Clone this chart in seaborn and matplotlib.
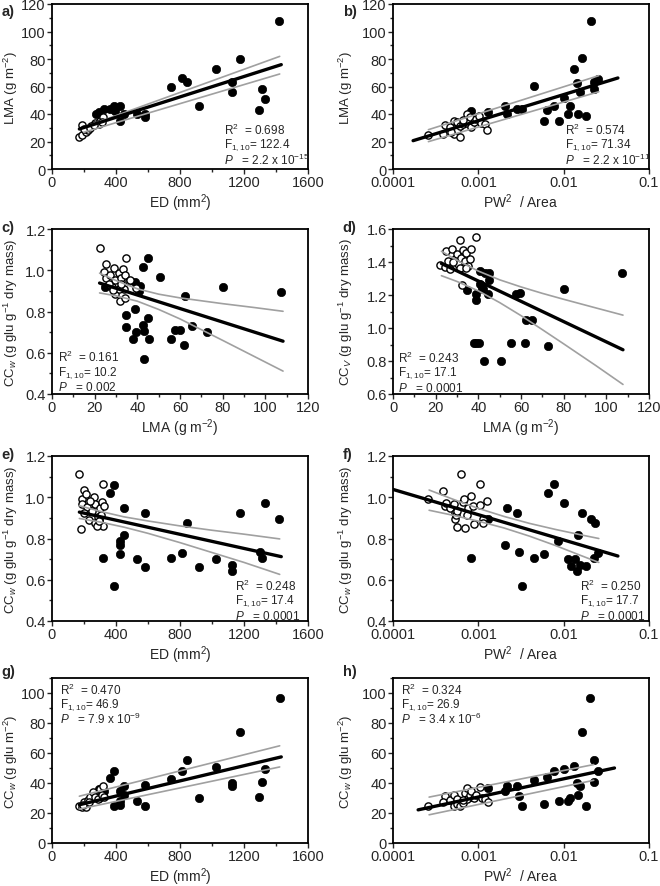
import matplotlib
matplotlib.use("Agg")
import matplotlib.pyplot as plt
import seaborn as sns
from matplotlib.ticker import MultipleLocator, FixedLocator, FixedFormatter, NullLocator

# ---- panel a: LMA vs ED ----
a_fill_x = [1420, 1177, 1027, 812, 844, 746, 1125, 1125, 1312, 1333, 1292, 917, 531, 579, 579,
            452, 423, 423, 385, 365, 396, 323, 296, 277]
a_fill_y = [108, 80, 72.7, 66, 63, 60, 63, 56, 58, 51, 43, 46, 40, 40, 38,
            40, 45.6, 35, 46, 43.6, 42, 43.6, 41.7, 40]
a_open_x = [171, 187, 187, 215, 223, 244, 271, 302, 319, 292, 198, 240, 260, 310]
a_open_y = [23, 25, 32, 26.7, 28.6, 31.5, 33.5, 35, 37.6, 32.7, 29, 30, 32, 34]
a_fit_x, a_fit_y = [171, 1433], [29.1, 75.9]
a_ci_x, a_ci_up, a_ci_lo = [198, 1423], [30.3, 81.9], [26.7, 69.1]

# ---- panel b: LMA vs PW2/Area ----
b_fill_x = [0.021, 0.0164, 0.0133, 0.00452, 0.0144, 0.0225, 0.0253, 0.0225, 0.0154, 0.010,
            0.00206, 0.00776, 0.012, 0.00637, 0.00282, 0.00324, 0.00215, 0.00131, 0.00081,
            0.00593, 0.0087, 0.0111, 0.0146, 0.0185]
b_fill_y = [108, 80.5, 72.7, 60.1, 62.5, 63, 65.5, 58.2, 56.2, 51.4,
            46, 46, 46, 43, 43.6, 43.6, 40, 41.2, 42.4,
            35, 35, 40, 40, 38.3]
b_open_x = [0.000254, 0.000405, 0.000388, 0.000465, 0.000518, 0.000518, 0.000556, 0.000556,
            0.000608, 0.000608, 0.000654, 0.000697, 0.00073, 0.00074, 0.000798, 0.00083,
            0.00088, 0.00095, 0.00103, 0.00107, 0.0012, 0.00128, 0.00067, 0.00048]
b_open_y = [24.7, 32, 25.5, 30.3, 35, 25.5, 28.6, 33.9,
            31, 23, 32.7, 35, 40, 33.5, 37.6, 30.3,
            34.4, 36.4, 38.8, 33.5, 32.7, 28.6, 35.8, 27]
b_fit_x, b_fit_y = [0.000172, 0.0432], [20.6, 66.2]
b_ci_x, b_ci_up, b_ci_lo = [0.00026, 0.0258], [28.6, 67.9], [19.9, 56.2]

# ---- panel c: CCw (mass) vs LMA ----
c_fill_x = [107.5, 80.2, 62.5, 50.8, 45, 42.7, 41.4, 40.6, 39.1, 39.8, 38.8, 34.8, 34.8, 39.5,
            37.8, 42.7, 43.3, 45, 45.6, 43, 55.8, 57.8, 59.8, 61.7, 65.6, 72.7, 25.0]
c_fill_y = [0.894, 0.918, 0.873, 0.967, 1.058, 1.018, 0.926, 0.897, 0.943, 0.914, 0.814, 0.785,
            0.725, 0.701, 0.666, 0.733, 0.706, 0.769, 0.666, 0.572, 0.669, 0.709, 0.709, 0.64,
            0.73, 0.701, 0.918]
c_open_x = [22.3, 25.5, 24.2, 25.2, 27.3, 28.9, 29.7, 28.3, 31.4, 32.3, 33.3, 34.8, 34.4, 36,
            36.7, 29.7, 31.7, 34.4, 33.6, 31.3, 39.5, 32.3, 26.6, 28.6]
c_open_y = [1.107, 1.031, 0.991, 0.962, 0.978, 1.01, 0.951, 0.918, 0.988, 0.962, 1.004, 1.058,
            0.975, 0.946, 0.951, 0.886, 0.849, 0.865, 0.91, 0.91, 0.914, 0.935, 0.935, 0.902]
c_fit_x, c_fit_y = [22.3, 108.3], [0.938, 0.656]
c_ci_x = [22.3, 30, 40, 50, 60, 70, 80, 95, 108.3]
c_ci_up = [0.986, 0.950, 0.910, 0.884, 0.866, 0.852, 0.838, 0.819, 0.801]
c_ci_lo = [0.890, 0.876, 0.850, 0.810, 0.764, 0.712, 0.660, 0.581, 0.511]

# ---- panel d: CCv vs LMA ----
d_fill_x = [107.5, 80.2, 59.4, 57.8, 62.2, 65.3, 55.5, 61.7, 72.7, 50.8, 42.5, 37.8, 39.1,
            40.3, 39.1, 39.1, 34.7, 40.9, 43, 45, 45, 40.6, 42.2, 44.5, 41.7]
d_fill_y = [1.336, 1.234, 1.214, 1.208, 1.051, 1.051, 0.909, 0.909, 0.889, 0.797, 0.797, 0.909,
            0.909, 0.909, 1.208, 1.167, 1.228, 1.346, 1.336, 1.336, 1.289, 1.265, 1.234, 1.204,
            1.244]
d_open_x = [31.25, 39.1, 22.2, 24.2, 25, 27.8, 25.8, 26.9, 28.9, 30, 30.5, 32, 32.8, 33.6,
            34.4, 35.2, 35.9, 36.7, 32.5, 31.6, 34.1, 28.1]
d_open_y = [1.533, 1.549, 1.381, 1.371, 1.464, 1.478, 1.407, 1.356, 1.417, 1.448, 1.387, 1.427,
            1.472, 1.407, 1.452, 1.376, 1.417, 1.478, 1.261, 1.366, 1.366, 1.397]
d_fit_x, d_fit_y = [22.7, 107.8], [1.391, 0.868]
d_ci_x = [22.7, 30, 40, 50, 60, 70, 80, 95, 107.8]
d_ci_up = [1.465, 1.410, 1.345, 1.292, 1.249, 1.210, 1.174, 1.122, 1.078]
d_ci_lo = [1.317, 1.282, 1.225, 1.154, 1.075, 0.990, 0.904, 0.773, 0.658]

# ---- panel e: CCw (mass) vs ED ----
e_fill_x = [1420, 1333, 1177, 1298, 1312, 1125, 1125, 1027, 917, 812, 844, 746, 579, 579, 531,
            452, 452, 423, 423, 423, 385, 385, 365, 319, 296]
e_fill_y = [0.893, 0.970, 0.922, 0.735, 0.707, 0.670, 0.642, 0.702, 0.663, 0.731, 0.874, 0.704,
            0.925, 0.663, 0.699, 0.949, 0.817, 0.788, 0.767, 0.726, 1.059, 0.570, 1.019, 0.704,
            0.893]
e_open_x = [171, 183, 198, 187, 187, 215, 219, 198, 229, 250, 260, 267, 271, 285, 302, 313,
            319, 319, 306, 323, 240, 281, 292]
e_open_y = [1.114, 0.848, 1.033, 0.993, 0.966, 1.014, 0.954, 0.922, 0.890, 0.933, 1.003, 0.966,
            0.874, 0.906, 0.949, 0.977, 1.063, 0.860, 0.912, 0.957, 0.982, 0.86, 0.885]
e_fit_x, e_fit_y = [171, 1433], [0.928, 0.712]
e_ci_x = [171, 300, 450, 600, 800, 1000, 1200, 1423]
e_ci_up = [0.959, 0.932, 0.905, 0.885, 0.861, 0.840, 0.821, 0.798]
e_ci_lo = [0.897, 0.880, 0.855, 0.825, 0.780, 0.732, 0.684, 0.626]

# ---- panel f: CCw (mass) vs PW2/Area ----
f_fill_x = [0.00776, 0.00648, 0.010, 0.0164, 0.021, 0.023, 0.00219, 0.00282, 0.00131, 0.0146,
            0.00857, 0.00206, 0.00296, 0.00452, 0.00593, 0.0111, 0.0135, 0.0122, 0.0154, 0.0185,
            0.0144, 0.0225, 0.0253, 0.00324, 0.00081]
f_fill_y = [1.063, 1.022, 0.974, 0.922, 0.896, 0.877, 0.949, 0.925, 0.893, 0.817,
            0.788, 0.768, 0.735, 0.707, 0.726, 0.702, 0.702, 0.667, 0.670, 0.667,
            0.642, 0.707, 0.731, 0.570, 0.707]
f_open_x = [0.000254, 0.000388, 0.000405, 0.00042, 0.00047, 0.000518, 0.00053, 0.00053, 0.00055,
            0.000556, 0.000625, 0.00067, 0.00068, 0.000697, 0.00073, 0.00076, 0.00083, 0.00086,
            0.00089, 0.00105, 0.00105, 0.00112, 0.00114, 0.00128, 0.00056]
f_open_y = [0.990, 1.030, 0.958, 0.97, 0.95, 0.966, 0.922, 0.893, 0.912,
            0.857, 1.111, 0.977, 0.990, 0.852, 0.912, 0.95, 1.006, 0.958,
            0.869, 1.063, 0.961, 0.893, 0.874, 0.982, 0.933]
f_fit_x, f_fit_y = [0.0001, 0.0432], [1.038, 0.715]
f_ci_x = [0.000265, 0.0005, 0.001, 0.002, 0.004, 0.008, 0.0158, 0.0258]
f_ci_up = [1.035, 0.991, 0.946, 0.907, 0.873, 0.844, 0.818, 0.800]
f_ci_lo = [0.937, 0.913, 0.884, 0.851, 0.811, 0.766, 0.718, 0.684]

# ---- panel g: CCw (area) vs ED ----
g_fill_x = [1423, 1177, 844, 812, 746, 1027, 1333, 1312, 1125, 1125, 1292, 917, 579, 579, 531,
            452, 452, 423, 423, 423, 385, 385, 365, 323, 296, 296]
g_fill_y = [96.5, 73.7, 55.2, 48, 42.5, 50.7, 49.6, 40.7, 40.2, 38, 31, 30.2, 38.4, 25, 27.9,
            38, 31.7, 35, 27.9, 25.5, 47.8, 24.4, 43.6, 34.4, 36.2, 30]
g_open_x = [171, 187, 198, 215, 223, 240, 256, 271, 285, 302, 313, 319, 323, 194, 229]
g_open_y = [24.6, 23.9, 27.3, 23.9, 28.4, 30.6, 34, 31, 29.5, 36.2, 32.2, 38, 30.6, 25.5, 27.3]
g_fit_x, g_fit_y = [171, 1433], [25.5, 57.4]
g_ci_x, g_ci_up, g_ci_lo = [171, 1423], [31.2, 64.8], [22.6, 50.7]

# ---- panel h: CCw (area) vs PW2/Area ----
h_fill_x = [0.0206, 0.0164, 0.0133, 0.010, 0.00776, 0.00637, 0.00452, 0.0225, 0.0253, 0.0225,
            0.0144, 0.0154, 0.0146, 0.012, 0.0111, 0.0087, 0.00593, 0.0185, 0.00324, 0.00296,
            0.00282, 0.00219, 0.00206, 0.00131, 0.00081]
h_fill_y = [96.5, 73.7, 51.2, 49.6, 48, 44, 42.2, 55.2, 48, 40.7,
            40, 38, 32.2, 29.9, 27.7, 27.7, 25.7, 25, 24.4, 31.3,
            38, 38, 35, 36.6, 30.6]
h_open_x = [0.000254, 0.000405, 0.000388, 0.000465, 0.000518, 0.000518, 0.000556, 0.000556,
            0.000608, 0.000654, 0.000697, 0.00073, 0.00074, 0.000798, 0.00083, 0.00088, 0.00095,
            0.00106, 0.0011, 0.0012, 0.00131, 0.00067]
h_open_y = [24.6, 31.3, 27.3, 29, 31.7, 24.6, 29.5, 26.1,
            24.6, 26.8, 33.5, 36.6, 29.5, 32.2, 35, 29.9, 31.7,
            37.3, 29.9, 29.5, 27.3, 29]
h_fit_x, h_fit_y = [0.000197, 0.0394], [22.1, 50.0]
h_ci_x, h_ci_up, h_ci_lo = [0.000265, 0.0225], [30.6, 52.3], [18.8, 41.8]

# stats text per panel: R2, F, P
stats = {
    "a": ("0.698", "122.4", r"2.2 x 10$^{-15}$"),
    "b": ("0.574", "71.34", r"2.2 x 10$^{-11}$"),
    "c": ("0.161", "10.2", "0.002"),
    "d": ("0.243", "17.1", "0.0001"),
    "e": ("0.248", "17.4", "0.0001"),
    "f": ("0.250", "17.7", "0.0001"),
    "g": ("0.470", "46.9", r"7.9 x 10$^{-9}$"),
    "h": ("0.324", "26.9", r"3.4 x 10$^{-6}$"),
}

sns.set_style("ticks")
plt.rcParams['font.family'] = ['Liberation Sans', 'DejaVu Sans']
plt.rcParams['mathtext.fontset'] = 'custom'
plt.rcParams['mathtext.rm'] = 'Liberation Sans'
plt.rcParams['mathtext.it'] = 'Liberation Sans:italic'
plt.rcParams['mathtext.bf'] = 'Liberation Sans:bold'
plt.rcParams['font.size'] = 10

W, H = 660, 887
fig = plt.figure(figsize=(6.6, 8.87), dpi=100)

# axes boxes in pixels: left, top
lefts = {"a": 52, "b": 393, "c": 52, "d": 393, "e": 52, "f": 393, "g": 52, "h": 393}
tops = {"a": 5, "b": 5, "c": 230, "d": 230, "e": 457, "f": 457, "g": 679, "h": 679}
AW, AH = 256, 165
letter_y = {"a": 0.955, "b": 0.955, "c": 1.01, "d": 1.01, "e": 1.01, "f": 1.01, "g": 1.04, "h": 1.04}

ED_LAB = r"ED (mm$^2$)"
PW_LAB = r"PW$^2$  / Area"
LMA_LAB = r"LMA (g m$^{-2}$)"

panels = {
    "a": dict(fx=a_fill_x, fy=a_fill_y, ox=a_open_x, oy=a_open_y, fit=(a_fit_x, a_fit_y),
              ci=(a_ci_x, a_ci_up, a_ci_lo), xlab=ED_LAB, ylab=LMA_LAB, kind="ed",
              ylim=(0, 120), ystep=20, ymin=10, yfmt="{:.0f}", txt=(0.67, 0.24)),
    "b": dict(fx=b_fill_x, fy=b_fill_y, ox=b_open_x, oy=b_open_y, fit=(b_fit_x, b_fit_y),
              ci=(b_ci_x, b_ci_up, b_ci_lo), xlab=PW_LAB, ylab=LMA_LAB, kind="pw",
              ylim=(0, 120), ystep=20, ymin=10, yfmt="{:.0f}", txt=(0.67, 0.24)),
    "c": dict(fx=c_fill_x, fy=c_fill_y, ox=c_open_x, oy=c_open_y, fit=(c_fit_x, c_fit_y),
              ci=(c_ci_x, c_ci_up, c_ci_lo), xlab=LMA_LAB,
              ylab=r"CC$_w$ (g glu g$^{-1}$ dry mass)", kind="lma",
              ylim=(0.4, 1.2), ystep=0.2, ymin=0.1, yfmt="{:.1f}", txt=(0.022, 0.225)),
    "d": dict(fx=d_fill_x, fy=d_fill_y, ox=d_open_x, oy=d_open_y, fit=(d_fit_x, d_fit_y),
              ci=(d_ci_x, d_ci_up, d_ci_lo), xlab=LMA_LAB,
              ylab=r"CC$_V$ (g glu g$^{-1}$ dry mass)", kind="lma",
              ylim=(0.6, 1.6), ystep=0.2, ymin=0.1, yfmt="{:.1f}", txt=(0.02, 0.22)),
    "e": dict(fx=e_fill_x, fy=e_fill_y, ox=e_open_x, oy=e_open_y, fit=(e_fit_x, e_fit_y),
              ci=(e_ci_x, e_ci_up, e_ci_lo), xlab=ED_LAB,
              ylab=r"CC$_w$ (g glu g$^{-1}$ dry mass)", kind="ed",
              ylim=(0.4, 1.2), ystep=0.2, ymin=0.1, yfmt="{:.1f}", txt=(0.716, 0.216)),
    "f": dict(fx=f_fill_x, fy=f_fill_y, ox=f_open_x, oy=f_open_y, fit=(f_fit_x, f_fit_y),
              ci=(f_ci_x, f_ci_up, f_ci_lo), xlab=PW_LAB,
              ylab=r"CC$_w$ (g glu g$^{-1}$ dry mass)", kind="pw",
              ylim=(0.4, 1.2), ystep=0.2, ymin=0.1, yfmt="{:.1f}", txt=(0.73, 0.216)),
    "g": dict(fx=g_fill_x, fy=g_fill_y, ox=g_open_x, oy=g_open_y, fit=(g_fit_x, g_fit_y),
              ci=(g_ci_x, g_ci_up, g_ci_lo), xlab=ED_LAB, ylab=r"CC$_w$ (g glu m$^{-2}$)",
              kind="ed", ylim=(0, 110), ystep=20, ymin=10, yfmt="{:.0f}", txt=(0.033, 0.933)),
    "h": dict(fx=h_fill_x, fy=h_fill_y, ox=h_open_x, oy=h_open_y, fit=(h_fit_x, h_fit_y),
              ci=(h_ci_x, h_ci_up, h_ci_lo), xlab=PW_LAB, ylab=r"CC$_w$ (g glu m$^{-2}$)",
              kind="pw", ylim=(0, 110), ystep=20, ymin=10, yfmt="{:.0f}", txt=(0.03, 0.933)),
}

for key, p in panels.items():
    l, t = lefts[key], tops[key]
    ax = fig.add_axes([l / W, 1 - (t + AH) / H, AW / W, AH / H])

    if p["kind"] == "pw":
        ax.set_xscale("log")

    sns.scatterplot(x=p["fx"], y=p["fy"], ax=ax, color="black", edgecolor="black",
                    s=36, linewidth=0.5, zorder=3)
    sns.scatterplot(x=p["ox"], y=p["oy"], ax=ax, color="white", edgecolor="black",
                    s=27, linewidth=1.0, zorder=4)

    cx, cu, cl = p["ci"]
    ax.plot(cx, cu, color="#a0a0a0", lw=1.2, zorder=5)
    ax.plot(cx, cl, color="#a0a0a0", lw=1.2, zorder=5)
    ax.plot(p["fit"][0], p["fit"][1], color="black", lw=2.4, zorder=6)

    # x axis
    if p["kind"] == "ed":
        ax.set_xlim(0, 1600)
        ax.xaxis.set_major_locator(MultipleLocator(400))
        ax.xaxis.set_minor_locator(MultipleLocator(200))
    elif p["kind"] == "lma":
        ax.set_xlim(0, 120)
        ax.xaxis.set_major_locator(MultipleLocator(20))
        ax.xaxis.set_minor_locator(MultipleLocator(10))
    else:
        ax.set_xlim(0.0001, 0.1)
        ax.xaxis.set_major_locator(FixedLocator([0.0001, 0.001, 0.01, 0.1]))
        ax.xaxis.set_major_formatter(FixedFormatter(["0.0001", "0.001", "0.01", "0.1"]))
        ax.xaxis.set_minor_locator(NullLocator())

    # y axis
    y0, y1 = p["ylim"]
    ax.set_ylim(y0, y1)
    yt = []
    v = y0
    while v <= y1 + 1e-9:
        yt.append(round(v, 2))
        v += p["ystep"]
    ax.set_yticks(yt)
    ax.set_yticklabels([p["yfmt"].format(v) for v in yt])
    ax.yaxis.set_minor_locator(MultipleLocator(p["ymin"]))

    ax.tick_params(which="major", direction="out", length=3.5, width=1, labelsize=10.5, pad=1)
    ax.tick_params(which="minor", direction="out", length=2, width=1)
    for s in ax.spines.values():
        s.set_linewidth(1.3)
        s.set_color("black")

    ax.set_xlabel(p["xlab"], fontsize=10)
    ax.set_ylabel(p["ylab"], fontsize=9.5)
    left_col = key in ("a", "c", "e", "g")
    ax.yaxis.set_label_coords(-0.125 if left_col else -0.15, 0.5)
    ax.xaxis.set_label_coords(0.5, -0.138)

    # panel letter
    ax.text(-0.197, letter_y[key], key + ")", transform=ax.transAxes, fontsize=10.5,
            fontweight="bold", ha="left", va="center")

    # stats block
    r2, fv, pv = stats[key]
    tx, ty = p["txt"]
    dy = 0.09
    ax.text(tx, ty, r"R$^2$  = " + r2, transform=ax.transAxes, fontsize=8.5, va="center")
    ax.text(tx, ty - dy, r"F$_{1,10}$= " + fv, transform=ax.transAxes, fontsize=8.5, va="center")
    ax.text(tx, ty - 2 * dy, r"$P$   = " + pv, transform=ax.transAxes, fontsize=8.5, va="center")

fig.savefig("out.png", dpi=100)
